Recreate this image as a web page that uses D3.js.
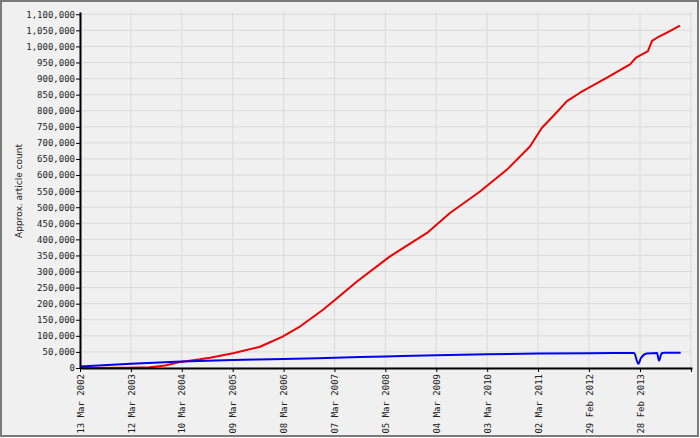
<!DOCTYPE html>
<html lang="en"><head><meta charset="utf-8">
<script type="text/javascript" src="https://cdn.jsdelivr.net/npm/d3@7/dist/d3.min.js"></script>
<style>
  body { margin: 0; background: #fff; }
  .tick text { font-family: "DejaVu Sans Mono", monospace; font-size: 9px; fill: #222; }
</style>
</head>
<body>
<script type="text/javascript">
// article counts
var redDates = ["2002-03-13","2003-03-05","2003-07-27","2003-11-11","2004-03-04","2004-07-18",
  "2004-09-28","2005-03-11","2005-09-20","2006-02-25","2006-07-03","2006-12-15","2007-03-25",
  "2007-08-15","2008-04-07","2008-12-28","2009-06-10","2010-01-11","2010-07-23","2011-01-03",
  "2011-03-30","2011-06-17","2011-09-25","2011-12-27","2012-07-07","2012-12-19","2013-01-31",
  "2013-04-26","2013-05-25","2013-06-30","2013-09-09","2013-12-11"];
var redValues = [0, 1000, 2500, 8000, 19000, 27000,
  32000, 46000, 66000, 97000, 129000, 181000, 217000,
  269000, 347000, 420000, 482000, 549000, 617000, 689000,
  747000, 783000, 830000, 856000, 903000, 944000, 965000,
  985000, 1017000, 1027000, 1043000, 1065000];

var blueDates = ["2002-03-13","2003-03-12","2004-03-10","2005-03-09","2006-03-08","2007-03-07",
  "2008-03-05","2009-03-04","2010-03-03","2011-03-02","2012-02-29","2012-12-19","2013-01-17",
  "2013-02-16","2013-03-07","2013-04-17","2013-06-30","2013-07-14","2013-08-02","2013-08-19",
  "2013-12-16"];
var blueValues = [5000, 13500, 20000, 25000, 28000, 32000,
  36000, 40000, 43000, 45000, 46000, 46500, 46500,
  13000, 31000, 45000, 46500, 23000, 46000, 47500,
  47500];

var tickDates = ["2002-03-13","2003-03-12","2004-03-10","2005-03-09","2006-03-08","2007-03-07",
  "2008-03-05","2009-03-04","2010-03-03","2011-03-02","2012-02-29","2013-02-28","2014-02-27"];
var tickLabels = ["13 Mar 2002","12 Mar 2003","10 Mar 2004","09 Mar 2005","08 Mar 2006","07 Mar 2007",
  "05 Mar 2008","04 Mar 2009","03 Mar 2010","02 Mar 2011","29 Feb 2012","28 Feb 2013",""];

var width = 700, height = 438;
var plotLeft = 80, plotRight = 692, plotTop = 12, plotBottom = 368;
var parse = d3.timeParse("%Y-%m-%d");

var svg = d3.select("body").append("svg")
    .attr("width", width)
    .attr("height", height);

svg.append("rect")
    .attr("x", 1).attr("y", 1)
    .attr("width", width - 3).attr("height", height - 3)
    .attr("fill", "#f0f0f0")
    .attr("stroke", "#7a7a7a")
    .attr("stroke-width", 2);

var x = d3.scaleTime()
    .domain([parse("2002-03-13"), parse("2014-03-07")])
    .range([plotLeft, plotRight]);
var y = d3.scaleLinear()
    .domain([0, 1107000])
    .range([plotBottom, plotTop]);

var yTicks = d3.range(0, 1100001, 50000);
var xTicks = tickDates.map(parse);

// grid
svg.append("g").selectAll("line").data(yTicks).enter().append("line")
    .attr("x1", plotLeft).attr("x2", plotRight)
    .attr("y1", d => y(d)).attr("y2", d => y(d))
    .attr("stroke", "#dadada").attr("stroke-width", 1);
svg.append("g").selectAll("line").data(xTicks).enter().append("line")
    .attr("x1", d => x(d)).attr("x2", d => x(d))
    .attr("y1", plotTop).attr("y2", plotBottom)
    .attr("stroke", "#dadada").attr("stroke-width", 1);

var redLine = d3.line()
    .x(d => x(d[0]))
    .y(d => y(d[1]));
var blueLine = d3.line()
    .x(d => x(d[0]))
    .y(d => y(d[1]))
    .curve(d3.curveMonotoneX);

var redData = redDates.map((d, i) => [parse(d), redValues[i]]);
var blueData = blueDates.map((d, i) => [parse(d), blueValues[i]]);

svg.append("path").datum(redData)
    .attr("d", redLine)
    .attr("fill", "none")
    .attr("stroke", "#ee0000")
    .attr("stroke-width", 2)
    .attr("stroke-linejoin", "round");
svg.append("path").datum(blueData)
    .attr("d", blueLine)
    .attr("fill", "none")
    .attr("stroke", "#0000ee")
    .attr("stroke-width", 2);

// axes
var yAxis = svg.append("g")
    .attr("transform", "translate(" + plotLeft + ",0)")
    .call(d3.axisLeft(y).tickValues(yTicks).tickFormat(d3.format(","))
        .tickSize(4).tickSizeOuter(0).tickPadding(1));
yAxis.select(".domain").attr("stroke", "#000").attr("stroke-width", 2);

var xAxis = svg.append("g")
    .attr("transform", "translate(0," + plotBottom + ")")
    .call(d3.axisBottom(x).tickValues(xTicks).tickFormat((d, i) => tickLabels[i])
        .tickSize(4).tickSizeOuter(0));
xAxis.select(".domain").attr("stroke", "#000").attr("stroke-width", 2);
xAxis.selectAll(".tick text")
    .attr("transform", "rotate(-90)")
    .attr("text-anchor", "end")
    .attr("x", -6)
    .attr("y", 0)
    .attr("dy", "0.35em");

svg.append("text")
    .attr("transform", "translate(22,191) rotate(-90)")
    .attr("text-anchor", "middle")
    .attr("font-family", "DejaVu Sans, sans-serif")
    .attr("font-size", 9)
    .attr("fill", "#222")
    .text("Approx. article count");
</script>
</body></html>
